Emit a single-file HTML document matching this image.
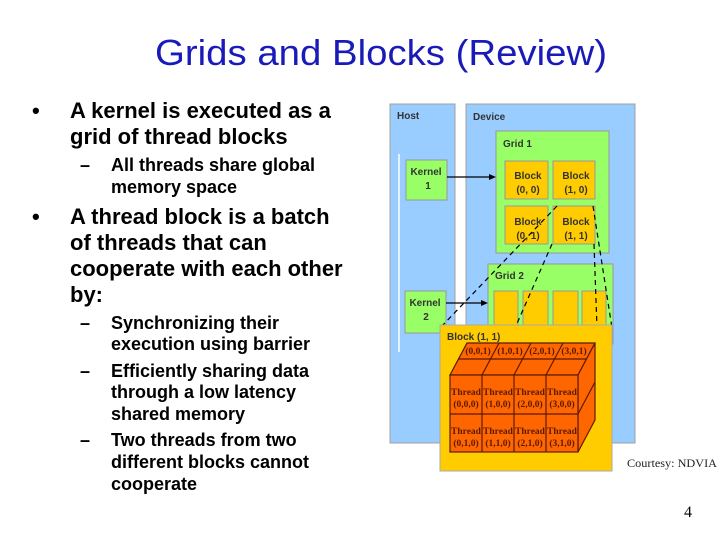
<!DOCTYPE html>
<html><head><meta charset="utf-8"><style>
html,body{margin:0;padding:0;background:#fff;}
svg{display:block}
</style></head><body>
<svg width="720" height="540" viewBox="0 0 720 540" xmlns="http://www.w3.org/2000/svg">
<g font-family="Liberation Sans, sans-serif">
<text x="155" y="65" font-size="36" fill="#1a1ab8" textLength="452" lengthAdjust="spacingAndGlyphs">Grids and Blocks (Review)</text>
<g font-size="22" fill="#000" font-weight="bold">
<text x="32" y="118">•</text>
<text x="70" y="118">A kernel is executed as a</text>
<text x="70" y="144">grid of thread blocks</text>
<text x="32" y="224">•</text>
<text x="70" y="224">A thread block is a batch</text>
<text x="70" y="250">of threads that can</text>
<text x="70" y="276">cooperate with each other</text>
<text x="70" y="302">by:</text>
</g>
<g font-size="18" fill="#000" font-weight="bold">
<text x="80" y="171">–</text>
<text x="111" y="171">All threads share global</text>
<text x="111" y="193">memory space</text>
<text x="80" y="329">–</text>
<text x="111" y="329">Synchronizing their</text>
<text x="111" y="350">execution using barrier</text>
<text x="80" y="377">–</text>
<text x="111" y="377">Efficiently sharing data</text>
<text x="111" y="398">through a low latency</text>
<text x="111" y="420">shared memory</text>
<text x="80" y="446">–</text>
<text x="111" y="446">Two threads from two</text>
<text x="111" y="468">different blocks cannot</text>
<text x="111" y="490">cooperate</text>
</g>

<rect x="390" y="104" width="65" height="339" fill="#99ccff" stroke="#a0a0a0"/>
<line x1="399" y1="154" x2="399" y2="352" stroke="#fff" stroke-width="1.5"/>
<rect x="466" y="104" width="169" height="339" fill="#99ccff" stroke="#a0a0a0"/>
<g font-size="10" font-weight="bold" fill="#333">
<text x="397" y="119">Host</text>
<text x="473" y="120">Device</text>
</g>
<rect x="406" y="160" width="41" height="40" fill="#99ff66" stroke="#999"/>
<text x="426" y="175" font-size="10" font-weight="bold" fill="#333" text-anchor="middle">Kernel</text>
<text x="428" y="189" font-size="10" font-weight="bold" fill="#333" text-anchor="middle">1</text>
<rect x="405" y="291" width="41" height="42" fill="#99ff66" stroke="#999"/>
<text x="425" y="306" font-size="10" font-weight="bold" fill="#333" text-anchor="middle">Kernel</text>
<text x="426" y="320" font-size="10" font-weight="bold" fill="#333" text-anchor="middle">2</text>

<rect x="496" y="131" width="113" height="122" fill="#99ff66" stroke="#999"/>
<text x="503" y="147" font-size="10" font-weight="bold" fill="#333">Grid 1</text>
<g fill="#ffcc00" stroke="#999">
<rect x="505" y="161" width="43" height="38"/>
<rect x="553" y="161" width="42" height="38"/>
<rect x="505" y="206" width="43" height="38"/>
<rect x="553" y="206" width="42" height="38"/>
</g>
<g font-size="10" font-weight="bold" fill="#333" text-anchor="middle">
<text x="528" y="179">Block</text><text x="528" y="193">(0, 0)</text>
<text x="576" y="179">Block</text><text x="576" y="193">(1, 0)</text>
<text x="528" y="225">Block</text><text x="528" y="239">(0, 1)</text>
<text x="576" y="225">Block</text><text x="576" y="239">(1, 1)</text>
</g>
<rect x="488" y="264" width="125" height="80" fill="#99ff66" stroke="#999"/>
<text x="495" y="279" font-size="10" font-weight="bold" fill="#333">Grid 2</text>
<g fill="#ffcc00" stroke="#999">
<rect x="494" y="291" width="24" height="40"/>
<rect x="523" y="291" width="25" height="40"/>
<rect x="553" y="291" width="25" height="40"/>
<rect x="582" y="291" width="24" height="40"/>
</g>
<g stroke="#000" stroke-width="1.2">
<line x1="447" y1="177" x2="492" y2="177"/>
<line x1="446" y1="303" x2="484" y2="303"/>
</g>
<polygon points="496,177 489,174 489,180" fill="#000"/>
<polygon points="488,303 481,300 481,306" fill="#000"/>
<g stroke="#000" stroke-width="1.2" stroke-dasharray="5,4" fill="none">
<line x1="557" y1="206" x2="440" y2="328"/>
<line x1="552" y1="244" x2="515" y2="328"/>
<line x1="593" y1="206" x2="612" y2="328"/>
<line x1="594" y1="244" x2="597" y2="328"/>
</g>
<rect x="440" y="325" width="172" height="146" fill="#ffcc00" stroke="#aaa"/>
<text x="447" y="340" font-size="10" font-weight="bold" fill="#333">Block (1, 1)</text>
<g stroke="#5a1a00" stroke-width="1.2" fill="#ff6600">
<polygon points="450,375 578,375 595,343 467,343"/>
<line x1="458" y1="359" x2="586" y2="359"/>
<line x1="482" y1="375" x2="499" y2="343"/>
<line x1="514" y1="375" x2="531" y2="343"/>
<line x1="546" y1="375" x2="563" y2="343"/>
<polygon points="578,375 595,343 595,420 578,452"/>
<line x1="578" y1="414" x2="595" y2="382"/>
<rect x="450" y="375" width="128" height="77"/>
<line x1="450" y1="414" x2="578" y2="414"/>
<line x1="482" y1="375" x2="482" y2="452"/>
<line x1="514" y1="375" x2="514" y2="452"/>
<line x1="546" y1="375" x2="546" y2="452"/>
</g>
<g font-family="Liberation Serif, serif" font-size="9.5" font-weight="bold" fill="#5a1a00" text-anchor="middle">
<text x="478" y="354">(0,0,1)</text><text x="510" y="354">(1,0,1)</text><text x="542" y="354">(2,0,1)</text><text x="574" y="354">(3,0,1)</text>
<text x="466" y="395">Thread</text><text x="466" y="407">(0,0,0)</text>
<text x="498" y="395">Thread</text><text x="498" y="407">(1,0,0)</text>
<text x="530" y="395">Thread</text><text x="530" y="407">(2,0,0)</text>
<text x="562" y="395">Thread</text><text x="562" y="407">(3,0,0)</text>
<text x="466" y="434">Thread</text><text x="466" y="446">(0,1,0)</text>
<text x="498" y="434">Thread</text><text x="498" y="446">(1,1,0)</text>
<text x="530" y="434">Thread</text><text x="530" y="446">(2,1,0)</text>
<text x="562" y="434">Thread</text><text x="562" y="446">(3,1,0)</text>
</g>
<text x="627" y="467" font-family="Liberation Serif, serif" font-size="12" fill="#222" textLength="90" lengthAdjust="spacingAndGlyphs">Courtesy: NDVIA</text>
<text x="684" y="517" font-family="Liberation Serif, serif" font-size="16" fill="#000">4</text>
</g>
</svg>
</body></html>
